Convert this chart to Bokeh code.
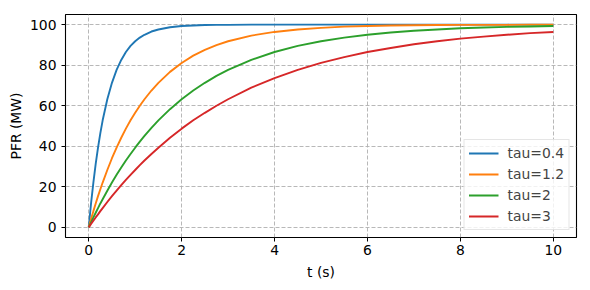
from bokeh.plotting import figure
from bokeh.models import FixedTicker, Range1d, Legend, LegendItem
from bokeh.embed import file_html
from bokeh.resources import INLINE

# time samples (s)
t = [0, 0.05, 0.1, 0.15, 0.2, 0.25, 0.3, 0.4, 0.5, 0.6, 0.7, 0.8, 0.9, 1.0, 1.1, 1.2,
     1.35, 1.5, 1.75, 2.0, 2.25, 2.5, 2.75, 3.0, 3.5, 4.0, 4.5, 5.0, 5.5, 6.0, 6.5,
     7.0, 7.5, 8.0, 8.5, 9.0, 9.5, 10.0]

# PFR (MW)
pfr_tau_04 = [0, 11.8, 22.1, 31.3, 39.3, 46.5, 52.8, 63.2, 71.3, 77.7, 82.6, 86.5, 89.5,
              91.8, 93.6, 95.0, 96.6, 97.6, 98.7, 99.3, 99.6, 99.8, 99.9, 99.9, 100, 100,
              100, 100, 100, 100, 100, 100, 100, 100, 100, 100, 100, 100]
pfr_tau_12 = [0, 4.1, 8.0, 11.8, 15.4, 18.8, 22.1, 28.3, 34.1, 39.3, 44.2, 48.7, 52.8,
              56.5, 60.0, 63.2, 67.5, 71.3, 76.7, 81.1, 84.7, 87.5, 89.9, 91.8, 94.6, 96.4,
              97.6, 98.4, 99.0, 99.3, 99.6, 99.7, 99.8, 99.9, 99.9, 99.9, 100, 100]
pfr_tau_2 = [0, 2.5, 4.9, 7.2, 9.5, 11.8, 13.9, 18.1, 22.1, 25.9, 29.5, 33.0, 36.2,
             39.3, 42.3, 45.1, 49.1, 52.8, 58.3, 63.2, 67.5, 71.3, 74.7, 77.7, 82.6, 86.5,
             89.5, 91.8, 93.6, 95.0, 96.1, 97.0, 97.6, 98.2, 98.6, 98.9, 99.1, 99.3]
pfr_tau_3 = [0, 1.7, 3.3, 4.9, 6.4, 8.0, 9.5, 12.5, 15.4, 18.1, 20.8, 23.4, 25.9,
             28.3, 30.7, 33.0, 36.2, 39.3, 44.2, 48.7, 52.8, 56.5, 60.0, 63.2, 68.9, 73.6,
             77.7, 81.1, 84.0, 86.5, 88.5, 90.3, 91.8, 93.1, 94.1, 95.0, 95.8, 96.4]

labels = ["tau=0.4", "tau=1.2", "tau=2", "tau=3"]
series = [pfr_tau_04, pfr_tau_12, pfr_tau_2, pfr_tau_3]
colors = ["#1f77b4", "#ff7f0e", "#2ca02c", "#d62728"]

x_ticks = [0, 2, 4, 6, 8, 10]
y_ticks = [0, 20, 40, 60, 80, 100]

FONT = "DejaVu Sans"
FS = "13.9px"

p = figure(output_backend="svg", toolbar_location=None,
           frame_width=511, frame_height=223,
           min_border_left=65, min_border_top=14, min_border_right=2, min_border_bottom=38,
           x_range=Range1d(-0.5, 10.5), y_range=Range1d(-5, 105),
           background_fill_color="white", border_fill_color="white")

items = []
for lab, ys, c in zip(labels, series, colors):
    r = p.line(t, ys, line_color=c, line_width=1.9)
    items.append(LegendItem(label=lab, renderers=[r]))

p.outline_line_color = "black"
p.outline_line_width = 1.1

for ax in (p.xaxis[0], p.yaxis[0]):
    ax.axis_line_color = None
    ax.major_tick_in = 0
    ax.major_tick_out = 4
    ax.minor_tick_line_color = None
    ax.major_tick_line_color = "black"
    ax.major_label_text_font = FONT
    ax.major_label_text_font_size = FS
    ax.major_label_text_color = "#000000"
    ax.axis_label_text_font = FONT
    ax.axis_label_text_font_size = FS
    ax.axis_label_text_font_style = "normal"
    ax.axis_label_text_color = "#000000"

p.xaxis.ticker = FixedTicker(ticks=x_ticks)
p.yaxis.ticker = FixedTicker(ticks=y_ticks)
p.xaxis.axis_label = "t (s)"
p.yaxis.axis_label = "PFR (MW)"
p.xaxis.major_label_standoff = 3
p.yaxis.major_label_standoff = 5
p.xaxis.axis_label_standoff = 6
p.yaxis.axis_label_standoff = 3

for g in (p.xgrid[0], p.ygrid[0]):
    g.grid_line_color = "#b0b0b0"
    g.grid_line_dash = "4 2"
    g.grid_line_width = 0.9
p.xgrid.ticker = FixedTicker(ticks=x_ticks)
p.ygrid.ticker = FixedTicker(ticks=y_ticks)

legend = Legend(items=items, location="bottom_right")
legend.margin = 7
legend.padding = 4
legend.spacing = 3
legend.glyph_width = 30
legend.glyph_height = 18
legend.label_height = 18
legend.label_standoff = 9
legend.label_text_font = FONT
legend.label_text_font_size = FS
legend.border_line_color = "#cccccc"
legend.background_fill_alpha = 0.8
p.add_layout(legend, "center")

open("out.html", "w").write(file_html(p, INLINE))
